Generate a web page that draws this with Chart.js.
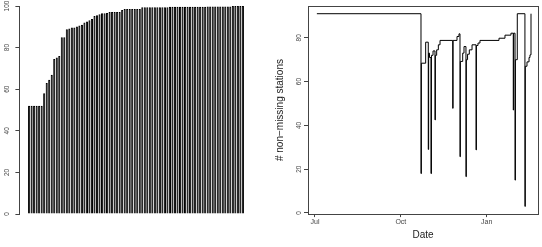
<!DOCTYPE html>
<html>
<head>
<meta charset="utf-8">
<script src="https://cdn.jsdelivr.net/npm/chart.js@4.4.1/dist/chart.umd.min.js"></script>
<style>
  html, body { margin: 0; padding: 0; background: #fff; }
  #wrap { position: relative; width: 542px; height: 247px; }
  canvas { position: absolute; top: 0; }
  #barChart { left: 0; }
  #lineChart { left: 271px; }
</style>
</head>
<body>
<div id="wrap">
  <canvas id="barChart" width="271" height="247"></canvas>
  <canvas id="lineChart" width="271" height="247"></canvas>
</div>
<script>
// left panel: one bar per station (sorted)
const barValues = [
  52, 52, 52, 52, 52, 52,
  58, 63, 64.5, 67, 74.5, 75.3, 76, 85, 85, 88.8, 89.2, 89.7, 89.7, 90.2,
  90.6, 91, 92.1, 92.6, 93.1, 93.7, 95.2, 95.6, 96, 96.5, 96.5, 96.6,
  97.1, 97.1, 97.1, 97.1, 97.1, 98.1,
  98.6, 98.6, 98.6, 98.6, 98.6, 98.6, 98.6,
  99.4, 99.4, 99.4, 99.4, 99.4, 99.4, 99.4, 99.4, 99.4, 99.4, 99.4,
  99.6, 99.6, 99.6, 99.6, 99.6, 99.6, 99.6, 99.6, 99.6, 99.6, 99.6, 99.6, 99.6, 99.6, 99.6,
  99.8, 99.8, 99.8, 99.8, 99.8, 99.8, 99.8, 99.8, 99.8, 99.8,
  100, 100, 100, 100, 100
];
const leftTicks = [0, 20, 40, 60, 80, 100];

// right panel: days since Jul 1 and number of non-missing stations
const dayOffsets = [
  2, 113.6, 114, 118.6, 121.4, 121.8, 122.7, 124.3, 124.8, 126.5,
  128.6, 129, 130.4, 132.2, 134, 147.6, 148, 152.2, 154.3, 155.4,
  155.8, 158.3, 159.7, 161.8, 162.2, 163.5, 165.4, 168.3, 172.6, 173,
  174.7, 176.8, 197.2, 203.6, 210, 212.5, 212.9, 214.4, 214.8, 216.8,
  225, 225.4, 227.2, 229.4, 230.4, 231.5
];
const stationCounts = [
  91, 18, 68.4, 78, 29, 73, 71, 18, 72, 74,
  42.5, 72, 74.5, 76.8, 78.8, 47.8, 78.8, 80.6, 81.8, 25.7,
  69.2, 73, 76, 16.6, 70, 72.5, 74.5, 76.8, 28.8, 76.5,
  77.6, 78.8, 79.8, 81.2, 82.1, 47, 82.1, 15, 70, 91,
  3, 67, 69, 71, 72.2, 91
];
const rightTicks = [0, 20, 40, 60, 80];
const monthTicks = [0, 92, 184];
const monthLabels = ['Jul', 'Oct', 'Jan'];

const FONT = '"Liberation Sans", Arial, sans-serif';

// y tick labels drawn parallel to the axis, like R does
const rotatedYLabels = {
  id: 'rotatedYLabels',
  afterDraw(chart, args, opts) {
    const s = chart.scales.y, ctx = chart.ctx;
    ctx.save();
    ctx.font = '6.5px ' + FONT;
    ctx.fillStyle = '#444';
    ctx.textAlign = 'center';
    ctx.textBaseline = 'middle';
    s.ticks.forEach(t => {
      ctx.save();
      ctx.translate(opts.x, s.getPixelForValue(t.value));
      ctx.rotate(-Math.PI / 2);
      ctx.fillText(String(t.value), 0, 0);
      ctx.restore();
    });
    ctx.restore();
  }
};

const boxPlugin = {
  id: 'boxPlugin',
  afterDraw(chart) {
    const a = chart.chartArea, ctx = chart.ctx;
    ctx.save();
    ctx.strokeStyle = '#444';
    ctx.lineWidth = 1;
    ctx.strokeRect(Math.round(a.left) + 0.5, Math.round(a.top) + 0.5,
      Math.round(a.right - a.left), Math.round(a.bottom - a.top));
    ctx.restore();
  }
};

new Chart(document.getElementById('barChart'), {
  type: 'bar',
  data: {
    datasets: [{
      data: barValues.map((v, i) => ({ x: i, y: v })),
      backgroundColor: '#a8a8a8',
      borderColor: '#000',
      borderWidth: 1,
      categoryPercentage: 1,
      barPercentage: 0.833
    }]
  },
  options: {
    responsive: false,
    animation: false,
    devicePixelRatio: 1,
    layout: { padding: { left: 0, top: 6, right: 18.4, bottom: 33 } },
    plugins: { legend: { display: false }, tooltip: { enabled: false }, rotatedYLabels: { x: 7 } },
    scales: {
      x: { type: 'linear', display: false, offset: false, bounds: 'data', min: -3.85, max: 88.85 },
      y: {
        min: 0, max: 100,
        afterBuildTicks: s => { s.ticks = leftTicks.map(v => ({ value: v })); },
        afterFit: s => { s.width = 19.4; },
        ticks: { display: false },
        grid: { drawOnChartArea: false, drawTicks: true, tickLength: 4, color: '#444' },
        border: { display: true, color: '#444' }
      }
    }
  },
  plugins: [rotatedYLabels]
});

new Chart(document.getElementById('lineChart'), {
  type: 'line',
  data: {
    datasets: [{
      data: dayOffsets.map((d, i) => ({ x: d, y: stationCounts[i] })),
      borderColor: '#000',
      borderWidth: 1,
      pointRadius: 0,
      stepped: 'before',
      fill: false
    }]
  },
  options: {
    responsive: false,
    animation: false,
    devicePixelRatio: 1,
    layout: { padding: { left: 0, top: 6, right: 4, bottom: 0 } },
    plugins: { legend: { display: false }, tooltip: { enabled: false }, rotatedYLabels: { x: 28 } },
    scales: {
      x: {
        type: 'linear', min: -7.5, max: 239,
        afterBuildTicks: s => { s.ticks = monthTicks.map(v => ({ value: v })); },
        afterFit: s => { s.height = 32.9; },
        ticks: {
          font: { family: FONT, size: 7 }, color: '#444', padding: 1, maxRotation: 0,
          callback: v => monthLabels[monthTicks.indexOf(v)]
        },
        grid: { drawOnChartArea: false, drawTicks: true, tickLength: 3, color: '#444' },
        border: { display: false },
        title: { display: true, text: 'Date', font: { family: FONT, size: 10 }, color: '#222', padding: { top: 0, bottom: 6 } }
      },
      y: {
        min: -0.52, max: 94.52,
        afterBuildTicks: s => { s.ticks = rightTicks.map(v => ({ value: v })); },
        afterFit: s => { s.width = 37; },
        ticks: { display: false },
        grid: { drawOnChartArea: false, drawTicks: true, tickLength: 4, color: '#444' },
        border: { display: false },
        title: { display: true, text: '# non\u2212missing stations', font: { family: FONT, size: 10 }, color: '#222', padding: { top: 3, bottom: 0 } }
      }
    }
  },
  plugins: [rotatedYLabels, boxPlugin]
});
</script>
</body>
</html>
